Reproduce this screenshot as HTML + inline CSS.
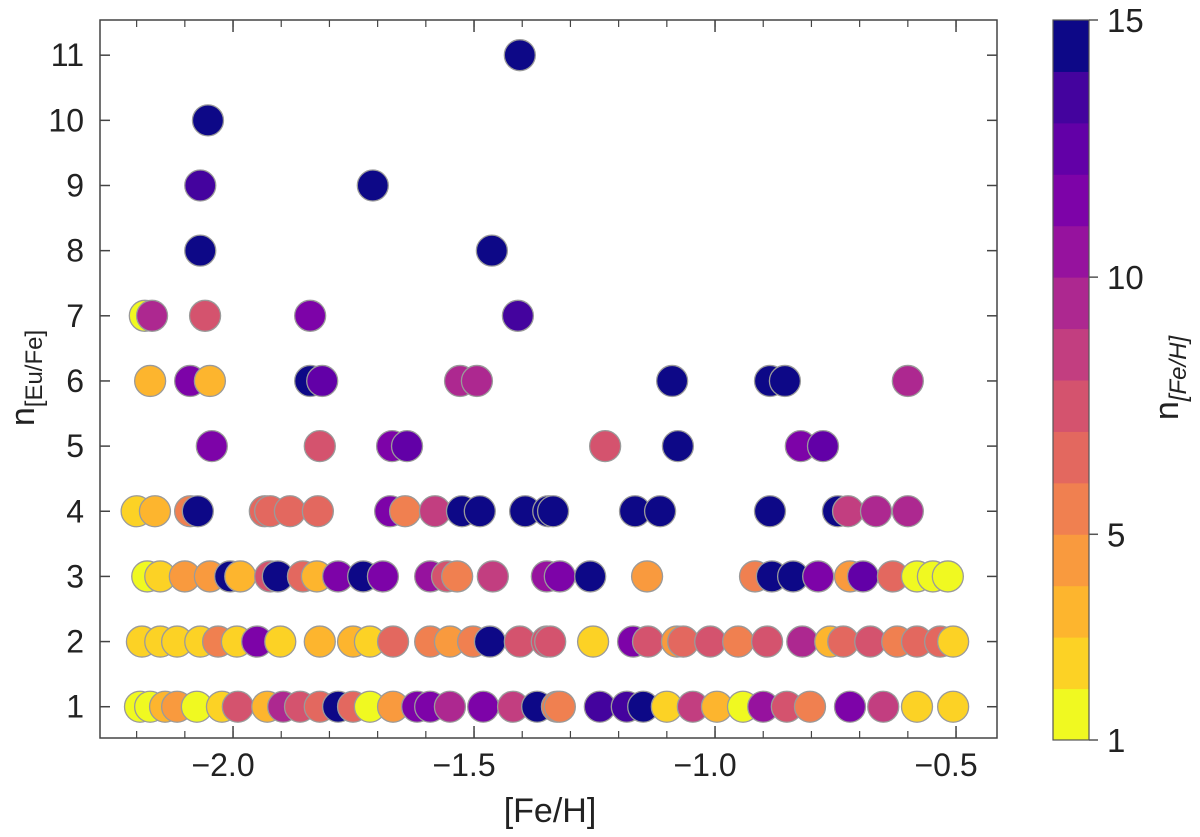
<!DOCTYPE html>
<html><head><meta charset="utf-8">
<style>
html,body{margin:0;padding:0;background:#fff;}
svg{display:block;font-family:"Liberation Sans",Arial,sans-serif;}
</style></head>
<body>
<svg id="chart" width="1200" height="837" viewBox="0 0 1200 837" xmlns="http://www.w3.org/2000/svg">
<g id="points"></g>
<g id="axes"></g>
<g id="cbar"></g>
</svg>
<script>
// Data: [Fe/H], n[Eu/Fe], n[Fe/H]
const feh = [
-2.193,-2.172,-2.141,-2.116,-2.075,-2.023,-1.990,-1.929,-1.896,-1.861,-1.820,-1.782,-1.751,-1.716,-1.668,-1.618,-1.591,-1.550,-1.481,-1.419,-1.369,-1.328,-1.322,-1.239,-1.183,-1.149,-1.100,-1.046,-0.996,-0.942,-0.900,-0.851,-0.803,-0.720,-0.651,-0.581,-0.506,
-2.189,-2.151,-2.116,-2.068,-2.031,-1.992,-1.950,-1.902,-1.820,-1.751,-1.716,-1.668,-1.591,-1.550,-1.502,-1.467,-1.405,-1.349,-1.342,-1.253,-1.170,-1.139,-1.079,-1.066,-1.010,-0.952,-0.892,-0.819,-0.761,-0.734,-0.678,-0.622,-0.581,-0.533,-0.506,
-2.178,-2.151,-2.100,-2.048,-2.006,-1.985,-1.923,-1.907,-1.855,-1.826,-1.782,-1.730,-1.689,-1.591,-1.556,-1.535,-1.461,-1.349,-1.322,-1.259,-1.141,-0.917,-0.882,-0.838,-0.786,-0.720,-0.693,-0.631,-0.581,-0.548,-0.517,
-2.200,-2.162,-2.089,-2.073,-1.934,-1.923,-1.882,-1.824,-1.674,-1.643,-1.581,-1.525,-1.488,-1.394,-1.346,-1.336,-1.166,-1.114,-0.886,-0.745,-0.724,-0.666,-0.600,
-2.044,-1.820,-1.670,-1.639,-1.228,-1.077,-0.822,-0.776,
-2.172,-2.089,-2.048,-1.840,-1.815,-1.529,-1.494,-1.089,-0.886,-0.855,-0.600,
-2.183,-2.168,-2.058,-1.840,-1.409,
-2.068,-1.463,
-2.068,-1.710,
-2.052,
-1.405
];
const neu = [
1,1,1,1,1,1,1,1,1,1,1,1,1,1,1,1,1,1,1,1,1,1,1,1,1,1,1,1,1,1,1,1,1,1,1,1,1,
2,2,2,2,2,2,2,2,2,2,2,2,2,2,2,2,2,2,2,2,2,2,2,2,2,2,2,2,2,2,2,2,2,2,2,
3,3,3,3,3,3,3,3,3,3,3,3,3,3,3,3,3,3,3,3,3,3,3,3,3,3,3,3,3,3,3,
4,4,4,4,4,4,4,4,4,4,4,4,4,4,4,4,4,4,4,4,4,4,4,
5,5,5,5,5,5,5,5,
6,6,6,6,6,6,6,6,6,6,6,
7,7,7,7,7,
8,8,
9,9,
10,
11
];
const nfe = [
1,1,3,4,1,2,7,3,9,7,6,15,6,1,4,11,11,9,11,8,14,5,5,13,13,15,2,8,3,1,10,7,5,11,8,2,2,
2,2,2,2,5,2,11,2,3,3,2,6,5,4,5,15,7,7,7,2,11,7,4,6,7,5,7,9,3,6,7,5,6,6,2,
1,2,4,4,15,3,7,15,6,3,11,15,11,10,7,5,8,10,11,15,4,5,15,15,11,4,12,6,1,1,1,
2,3,5,15,6,6,6,6,11,5,8,15,15,15,15,14,15,14,15,14,8,9,9,
11,7,11,12,7,15,11,12,
3,11,3,14,12,9,9,15,15,15,9,
1,9,7,11,13,
15,15,
13,15,
15,
15
];
const xTicks = [-2.0,-1.5,-1.0,-0.5];
const xTickLabels = ["\u22122.0","\u22121.5","\u22121.0","\u22120.5"];
const yTicks = [1,2,3,4,5,6,7,8,9,10,11];
const cbTicks = [1,5,10,15];

const L=100,R=997,T=20,B=738;
const XMIN=-2.276,XMAX=-0.415,YMIN=0.52,YMAX=11.54;
const sx=v=>L+(v-XMIN)/(XMAX-XMIN)*(R-L);
const sy=v=>B-(v-YMIN)/(YMAX-YMIN)*(B-T);
const NS="http://www.w3.org/2000/svg";
function mk(tag,attrs,parent,text){const e=document.createElementNS(NS,tag);for(const k in attrs)e.setAttribute(k,attrs[k]);if(text!==undefined)e.textContent=text;parent.appendChild(e);return e;}
const bandCols=["#f0f921","#fcd225","#fdb52e","#f99a3e","#f08050","#e3685f","#d4536e","#c23e80","#ad2890","#96129e","#7d03a8","#6200a7","#44039e","#0d0887"];
function colOf(c){const b=Math.max(0,Math.min(13,Math.round(c)-1));return bandCols[b];}

const pts=document.getElementById('points');
for(let i=0;i<feh.length;i++){
  const c=mk('circle',{cx:sx(feh[i]),cy:sy(neu[i]),r:15.5,fill:colOf(nfe[i]),stroke:'#9a9a9a','stroke-width':1.3},pts);
  
  
}

const ax=document.getElementById('axes');
const frame=mk('rect',{x:L,y:T,width:R-L,height:B-T,fill:'none',stroke:'#444','stroke-width':1.5},ax);


for(let v=-2.2;v<=-0.45;v+=0.1){
  const x=sx(v);
  mk('line',{x1:x,x2:x,y1:B,y2:B-7,stroke:'#444','stroke-width':1.2},ax);
  mk('line',{x1:x,x2:x,y1:T,y2:T+7,stroke:'#444','stroke-width':1.2},ax);
}
xTicks.forEach((v,i)=>{
  const x=sx(v);
  mk('line',{x1:x,x2:x,y1:B,y2:B-12,stroke:'#444','stroke-width':1.5},ax);
  mk('line',{x1:x,x2:x,y1:T,y2:T+12,stroke:'#444','stroke-width':1.5},ax);
  const t=mk('text',{x:x-10,y:B+38,'text-anchor':'middle','font-size':32,fill:'#222'},ax,xTickLabels[i]);
  
  
});
yTicks.forEach(v=>{
  const y=sy(v);
  mk('line',{x1:L,x2:L+10,y1:y,y2:y,stroke:'#444','stroke-width':1.5},ax);
  mk('line',{x1:R,x2:R-10,y1:y,y2:y,stroke:'#444','stroke-width':1.5},ax);
  const t=mk('text',{x:L-16,y:y+11,'text-anchor':'end','font-size':32,fill:'#222'},ax,String(v));
  
  
});
const xt=mk('text',{x:550,y:822,'text-anchor':'middle','font-size':34,fill:'#222'},ax,'[Fe/H]');


const yt=mk('text',{transform:'translate(34,378) rotate(-90)','text-anchor':'middle','font-size':34,fill:'#222'},ax);


mk('tspan',{},yt,'n');
mk('tspan',{'font-size':24,dy:8},yt,'[Eu/Fe]');

const cb=document.getElementById('cbar');
const CL=1053,CR=1089,CT=20,CB=740;
const cy=v=>CB-(v-1)/14*(CB-CT);
for(let b=0;b<14;b++){
  const r=mk('rect',{x:CL,y:cy(b+2),width:CR-CL,height:cy(b+1)-cy(b+2)+0.5,fill:bandCols[b]},cb);
  
  
}
mk('rect',{x:CL,y:CT,width:CR-CL,height:CB-CT,fill:'none',stroke:'#555','stroke-width':1.2},cb);
cbTicks.forEach(v=>{
  const y=cy(v);
  mk('line',{x1:CR,x2:CR+9,y1:y,y2:y,stroke:'#555','stroke-width':1.5},cb);
  const t=mk('text',{x:CR+18,y:y+12,'font-size':33,fill:'#222'},cb,String(v));
  
  
});
const ct=mk('text',{transform:'translate(1178,378) rotate(-90)','text-anchor':'middle','font-size':34,fill:'#222'},cb);


mk('tspan',{},ct,'n');
mk('tspan',{'font-size':24,dy:8,'font-style':'italic'},ct,'[Fe/H]');
</script>
</body></html>
